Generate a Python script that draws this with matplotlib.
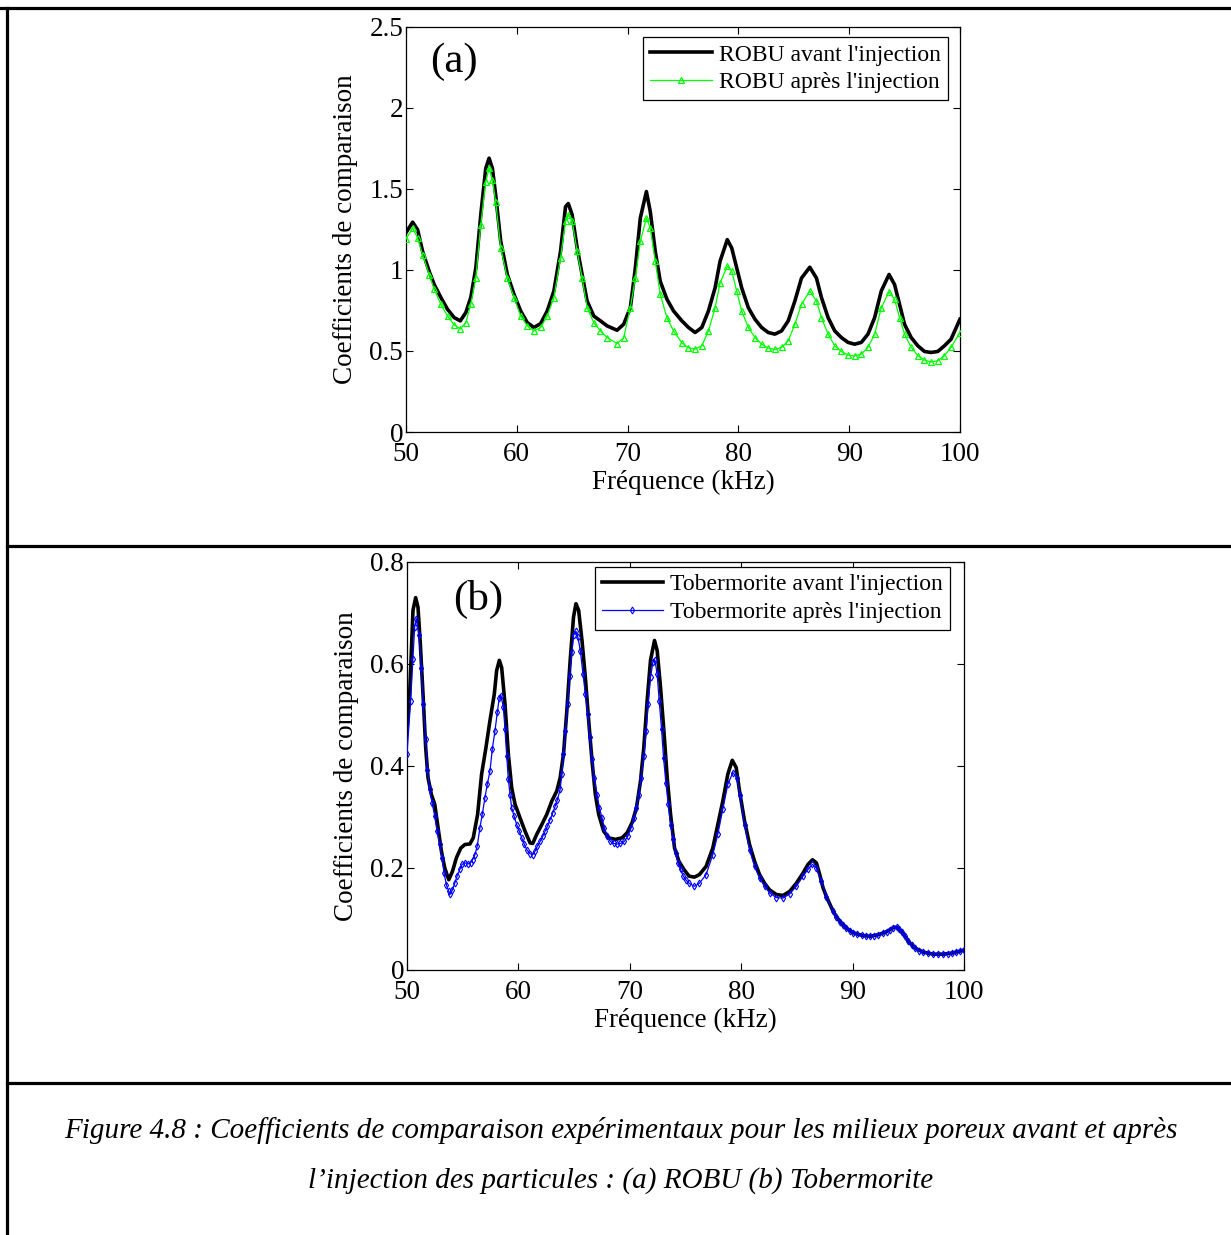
import matplotlib
matplotlib.use("Agg")
import matplotlib.pyplot as plt
from matplotlib.lines import Line2D

plt.rcParams['font.family'] = ['Liberation Serif', 'DejaVu Serif']

# --- (a) ROBU -------------------------------------------------------------
freq_a = [50.0, 50.6, 51.05, 51.5, 52.1, 52.55, 53.15, 53.75, 54.35, 54.9,
          55.4, 55.85, 56.3, 56.75, 57.2, 57.5, 57.8, 58.1, 58.55, 59.15,
          59.75, 60.35, 60.95, 61.55, 62.15, 62.75, 63.35, 63.95, 64.4, 64.65,
          65.0, 65.45, 65.9, 66.35, 66.95, 67.55, 68.15, 69.05, 69.65, 70.25,
          70.7, 71.15, 71.7, 72.05, 72.5, 72.95, 73.55, 74.15, 74.9,
          75.5, 76.1, 76.7, 77.3, 77.9, 78.35, 79.0, 79.4, 79.85, 80.3,
          80.9, 81.5, 82.1, 82.7, 83.3, 83.9, 84.5, 85.1, 85.7, 86.45,
          87.05, 87.5, 88.1, 88.7, 89.3, 89.9, 90.5, 91.1, 91.7, 92.3,
          92.9, 93.6, 94.1, 94.55, 95.0, 95.6, 96.2, 96.8, 97.4, 98.0,
          98.6, 99.2, 100.0]
robu_avant = [1.23, 1.295, 1.248, 1.115, 0.99, 0.91, 0.83, 0.757, 0.706, 0.686,
              0.737, 0.83, 1.01, 1.34, 1.627, 1.69, 1.627, 1.46, 1.177, 0.972,
              0.85, 0.747, 0.675, 0.645, 0.669, 0.747, 0.87, 1.115, 1.39, 1.41,
              1.34, 1.136, 0.972, 0.808, 0.716, 0.686, 0.655, 0.628, 0.665, 0.767,
              1.01, 1.32, 1.484, 1.36, 1.115, 0.93, 0.82, 0.747, 0.686,
              0.645, 0.614, 0.645, 0.747, 0.89, 1.054, 1.187, 1.136, 1.013, 0.89,
              0.767, 0.696, 0.645, 0.614, 0.604, 0.624, 0.686, 0.808, 0.95, 1.017,
              0.95, 0.83, 0.706, 0.624, 0.583, 0.553, 0.542, 0.553, 0.604, 0.706,
              0.87, 0.972, 0.91, 0.788, 0.665, 0.583, 0.532, 0.497, 0.491, 0.497,
              0.532, 0.573, 0.696]
robu_apres = [1.19, 1.259, 1.197, 1.095, 0.972, 0.88, 0.788, 0.716, 0.661, 0.636,
              0.675, 0.788, 0.95, 1.28, 1.545, 1.627, 1.555, 1.42, 1.136, 0.95,
              0.83, 0.716, 0.655, 0.624, 0.645, 0.716, 0.83, 1.074, 1.30, 1.34,
              1.30, 1.115, 0.95, 0.767, 0.675, 0.624, 0.583, 0.546, 0.583, 0.767,
              0.95, 1.177, 1.32, 1.259, 1.054, 0.85, 0.706, 0.624, 0.55,
              0.52, 0.512, 0.532, 0.624, 0.767, 0.92, 1.023, 0.993, 0.87, 0.747,
              0.645, 0.583, 0.542, 0.518, 0.51, 0.522, 0.563, 0.665, 0.788, 0.87,
              0.808, 0.706, 0.604, 0.532, 0.497, 0.475, 0.469, 0.481, 0.522, 0.604,
              0.767, 0.866, 0.819, 0.706, 0.604, 0.522, 0.471, 0.444, 0.432, 0.44,
              0.471, 0.522, 0.614]

# --- (b) Tobermorite ------------------------------------------------------
freq_b_avant = [50.0, 50.24, 50.54, 50.78, 50.99, 51.2, 51.44, 51.68, 51.89, 52.19,
                52.49, 52.79, 53.09, 53.39, 53.75, 54.08, 54.44, 54.83, 55.2, 55.65,
                55.95, 56.34, 56.7, 57.09, 57.45, 57.84, 58.05, 58.29, 58.5, 58.8,
                59.1, 59.4, 59.7, 60.15, 60.6, 61.05, 61.29, 61.65, 62.1, 62.55,
                63.0, 63.45, 63.75, 64.05, 64.35, 64.65, 64.95, 65.17, 65.41, 65.71,
                66.01, 66.31, 66.61, 66.91, 67.21, 67.66, 68.11, 68.71, 69.31, 69.76,
                70.21, 70.6, 70.96, 71.26, 71.56, 71.86, 72.22, 72.46, 72.76, 73.06,
                73.36, 73.66, 74.02, 74.41, 74.86, 75.32,
                75.8, 76.25, 76.85, 77.45, 77.9, 78.35, 78.8, 79.2, 79.55, 79.85,
                80.3, 80.75, 81.2, 81.65, 82.1, 82.55, 83.15, 83.75, 84.35, 84.95,
                85.55, 86.0, 86.4, 86.75, 87.05, 87.35,
                87.65, 88.25, 88.85, 89.45, 90.05, 90.8, 91.55, 92.3, 93.05, 93.65,
                93.95, 94.4, 95.0, 95.6, 96.35, 97.25, 98.15, 98.9, 99.65, 100.0]
tober_avant = [0.47, 0.54, 0.705, 0.73, 0.711, 0.639, 0.541, 0.436, 0.377, 0.344,
               0.325, 0.279, 0.233, 0.2, 0.177, 0.193, 0.22, 0.239, 0.246, 0.247,
               0.259, 0.305, 0.384, 0.436, 0.489, 0.541, 0.587, 0.607, 0.593, 0.521,
               0.423, 0.357, 0.325, 0.298, 0.272, 0.249, 0.248, 0.266, 0.285, 0.305,
               0.331, 0.351, 0.377, 0.423, 0.508, 0.607, 0.692, 0.718, 0.705, 0.646,
               0.574, 0.489, 0.41, 0.344, 0.305, 0.272, 0.259, 0.256, 0.259, 0.269,
               0.289, 0.318, 0.37, 0.436, 0.528, 0.607, 0.646, 0.626, 0.554, 0.469,
               0.377, 0.305, 0.239, 0.213, 0.197, 0.184,
               0.182, 0.187, 0.203, 0.239, 0.285, 0.331, 0.384, 0.411, 0.397, 0.351,
               0.292, 0.246, 0.213, 0.187, 0.17, 0.157, 0.148, 0.146, 0.154, 0.17,
               0.19, 0.207, 0.216, 0.21, 0.187, 0.161,
               0.144, 0.115, 0.095, 0.082, 0.073, 0.068, 0.066, 0.069, 0.075, 0.083,
               0.084, 0.075, 0.056, 0.043, 0.035, 0.031, 0.031, 0.033, 0.037, 0.039]

freq_b_apres = [50.0, 50.33, 50.54, 50.69, 50.84, 51.08, 51.29, 51.44, 51.68, 51.83,
                52.04, 52.25, 52.49, 52.70, 52.94, 53.15, 53.33, 53.54, 53.75, 53.90,
                54.08, 54.29, 54.50, 54.74, 54.95, 55.20, 55.50, 55.71, 55.89, 56.10,
                56.31, 56.55, 56.76, 57.00, 57.21, 57.45, 57.66, 57.90, 58.11, 58.29,
                58.44, 58.65, 58.80, 58.95, 59.10, 59.25, 59.40, 59.61, 59.85, 60.09,
                60.30, 60.54, 60.75, 61.05, 61.29, 61.50, 61.71, 61.95, 62.19, 62.40,
                62.61, 62.85, 63.09, 63.30, 63.51, 63.75, 63.90, 64.05, 64.23, 64.41,
                64.59, 64.80, 64.95, 65.17, 65.35, 65.56, 65.80, 66.01, 66.22, 66.40,
                66.61, 66.82, 67.06, 67.27, 67.51, 67.72, 67.96, 68.26, 68.56, 68.86,
                69.16, 69.52, 69.82, 70.12, 70.36, 70.60, 70.81, 71.02, 71.26, 71.47,
                71.65, 71.86, 72.07, 72.25, 72.46, 72.64, 72.85, 73.03, 73.24, 73.45,
                73.66, 73.90, 74.11, 74.32, 74.56, 74.80, 75.02, 75.32,
                75.8, 76.25, 76.85, 77.45, 77.9, 78.35, 78.8, 79.25, 79.6, 79.9,
                80.3, 80.75, 81.2, 81.65, 82.1, 82.55, 83.15, 83.75, 84.35, 84.95,
                85.55, 86.0, 86.4, 86.75, 87.2, 87.65, 88.25, 88.55, 88.85, 89.15,
                89.45, 89.75, 90.05, 90.4, 90.8, 91.2, 91.55, 91.9, 92.3, 92.7,
                93.05, 93.35, 93.65, 93.95, 94.15, 94.4, 94.7, 95.0, 95.3, 95.6,
                96.0, 96.35, 96.8, 97.25, 97.7, 98.15, 98.55, 98.9, 99.3, 99.65, 100.0]
tober_apres = [0.423, 0.528, 0.61, 0.672, 0.689, 0.656, 0.593, 0.521, 0.452, 0.393,
               0.354, 0.328, 0.302, 0.272, 0.246, 0.22, 0.19, 0.167, 0.154, 0.149,
               0.157, 0.17, 0.184, 0.197, 0.207, 0.21, 0.208, 0.21, 0.216, 0.226,
               0.243, 0.279, 0.305, 0.338, 0.364, 0.39, 0.433, 0.469, 0.505, 0.534,
               0.538, 0.515, 0.472, 0.42, 0.374, 0.344, 0.318, 0.302, 0.285, 0.272,
               0.259, 0.246, 0.236, 0.228, 0.226, 0.233, 0.243, 0.252, 0.262, 0.272,
               0.282, 0.295, 0.308, 0.321, 0.334, 0.354, 0.384, 0.423, 0.469, 0.521,
               0.577, 0.623, 0.656, 0.664, 0.652, 0.626, 0.58, 0.541, 0.502, 0.456,
               0.413, 0.377, 0.344, 0.318, 0.298, 0.279, 0.262, 0.252, 0.248, 0.247,
               0.248, 0.252, 0.262, 0.279, 0.298, 0.318, 0.344, 0.377, 0.42, 0.469,
               0.521, 0.574, 0.603, 0.608, 0.58, 0.528, 0.472, 0.416, 0.367, 0.325,
               0.285, 0.256, 0.23, 0.21, 0.197, 0.184, 0.177, 0.17,
               0.164, 0.17, 0.187, 0.226, 0.266, 0.315, 0.364, 0.387, 0.377, 0.344,
               0.285, 0.236, 0.203, 0.18, 0.164, 0.151, 0.142, 0.141, 0.149, 0.164,
               0.184, 0.197, 0.207, 0.2, 0.174, 0.144, 0.115, 0.104, 0.095, 0.088,
               0.082, 0.077, 0.073, 0.07, 0.068, 0.067, 0.066, 0.067, 0.069, 0.072,
               0.075, 0.079, 0.083, 0.084, 0.081, 0.075, 0.066, 0.056, 0.049, 0.043,
               0.038, 0.035, 0.033, 0.031, 0.031, 0.031, 0.032, 0.033, 0.035, 0.037, 0.039]

xticks = [50, 60, 70, 80, 90, 100]
yticks_a = [0, 0.5, 1, 1.5, 2, 2.5]
yticks_b = [0, 0.2, 0.4, 0.6, 0.8]

FS = 19.5      # ticks + axis labels
FS_LEG = 17
fig = plt.figure(figsize=(12.31, 12.35), dpi=100)


def style_axes(ax, yticks, ylim):
    ax.set_xlim(50, 100)
    ax.set_ylim(*ylim)
    ax.set_xticks(xticks)
    ax.set_xticklabels([str(t) for t in xticks])
    ax.set_yticks(yticks)
    ax.set_yticklabels(['%g' % t for t in yticks])
    ax.tick_params(direction='in', top=True, right=True, length=5, width=0.8,
                   labelsize=FS)
    ax.tick_params(axis='x', pad=7)
    ax.tick_params(axis='y', pad=2)
    for s in ax.spines.values():
        s.set_linewidth(0.9)
    ax.set_xlabel(u'Fréquence (kHz)', fontsize=FS, labelpad=2)
    ax.set_ylabel('Coefficients de comparaison', fontsize=FS, labelpad=8)


ax1 = fig.add_axes([0.3298, 0.6502, 0.450, 0.328])
ax1.plot(freq_a, robu_avant, color='black', lw=2.6,
         label="ROBU avant l'injection", zorder=2)
ax1.plot(freq_a, robu_apres, color='#00ff00', lw=0.9, marker='^', ms=4,
         mfc='none', mec='#00ff00', mew=0.9,
         label=u"ROBU après l'injection", zorder=3)
style_axes(ax1, yticks_a, (0, 2.5))
ax1.text(0.043, 0.913, '(a)', transform=ax1.transAxes, fontsize=31,
         va='center', ha='left')
leg1 = ax1.legend(loc='upper right', bbox_to_anchor=(0.978, 0.975), fontsize=FS_LEG,
                  fancybox=False, framealpha=1, edgecolor='black',
                  handlelength=2.6, handletextpad=0.3, borderpad=0.3,
                  labelspacing=0.25, borderaxespad=0)
leg1.get_frame().set_linewidth(0.9)

ax2 = fig.add_axes([0.3306, 0.2146, 0.4525, 0.3304])
ax2.plot(freq_b_avant, tober_avant, color='black', lw=2.6,
         label="Tobermorite avant l'injection", zorder=2)
ax2.plot(freq_b_apres, tober_apres, color='#0000ff', lw=0.9, marker='d', ms=3.5,
         mfc='none', mec='#0000ff', mew=0.8,
         label=u"Tobermorite après l'injection", zorder=3)
style_axes(ax2, yticks_b, (0, 0.8))
ax2.text(0.083, 0.907, '(b)', transform=ax2.transAxes, fontsize=31,
         va='center', ha='left')
leg2 = ax2.legend(loc='upper right', bbox_to_anchor=(0.975, 0.988), fontsize=FS_LEG,
                  fancybox=False, framealpha=1, edgecolor='black',
                  handlelength=2.6, handletextpad=0.3, borderpad=0.3,
                  labelspacing=0.25, borderaxespad=0)
leg2.get_frame().set_linewidth(0.9)

# table-like frame around the figure
W, H = 1231.0, 1235.0
def hline(y, x0, x1):
    fig.add_artist(Line2D([x0 / W, x1 / W], [1 - y / H, 1 - y / H],
                          color='black', lw=2.3, transform=fig.transFigure))
def vline(x, y0, y1):
    fig.add_artist(Line2D([x / W, x / W], [1 - y0 / H, 1 - y1 / H],
                          color='black', lw=2.3, transform=fig.transFigure))

hline(8, 0, W)
vline(7, 8, H)
hline(546, 7, W)
hline(1083, 7, W)

# caption
fig.text(621 / W, 1 - 1130 / H,
         u'Figure 4.8 : Coefficients de comparaison expérimentaux pour les milieux poreux avant et après',
         ha='center', va='center', fontsize=21, style='italic')
fig.text(621 / W, 1 - 1181 / H,
         u'l\u2019injection des particules : (a) ROBU (b) Tobermorite',
         ha='center', va='center', fontsize=21, style='italic')

fig.savefig('out.png', dpi=100)
